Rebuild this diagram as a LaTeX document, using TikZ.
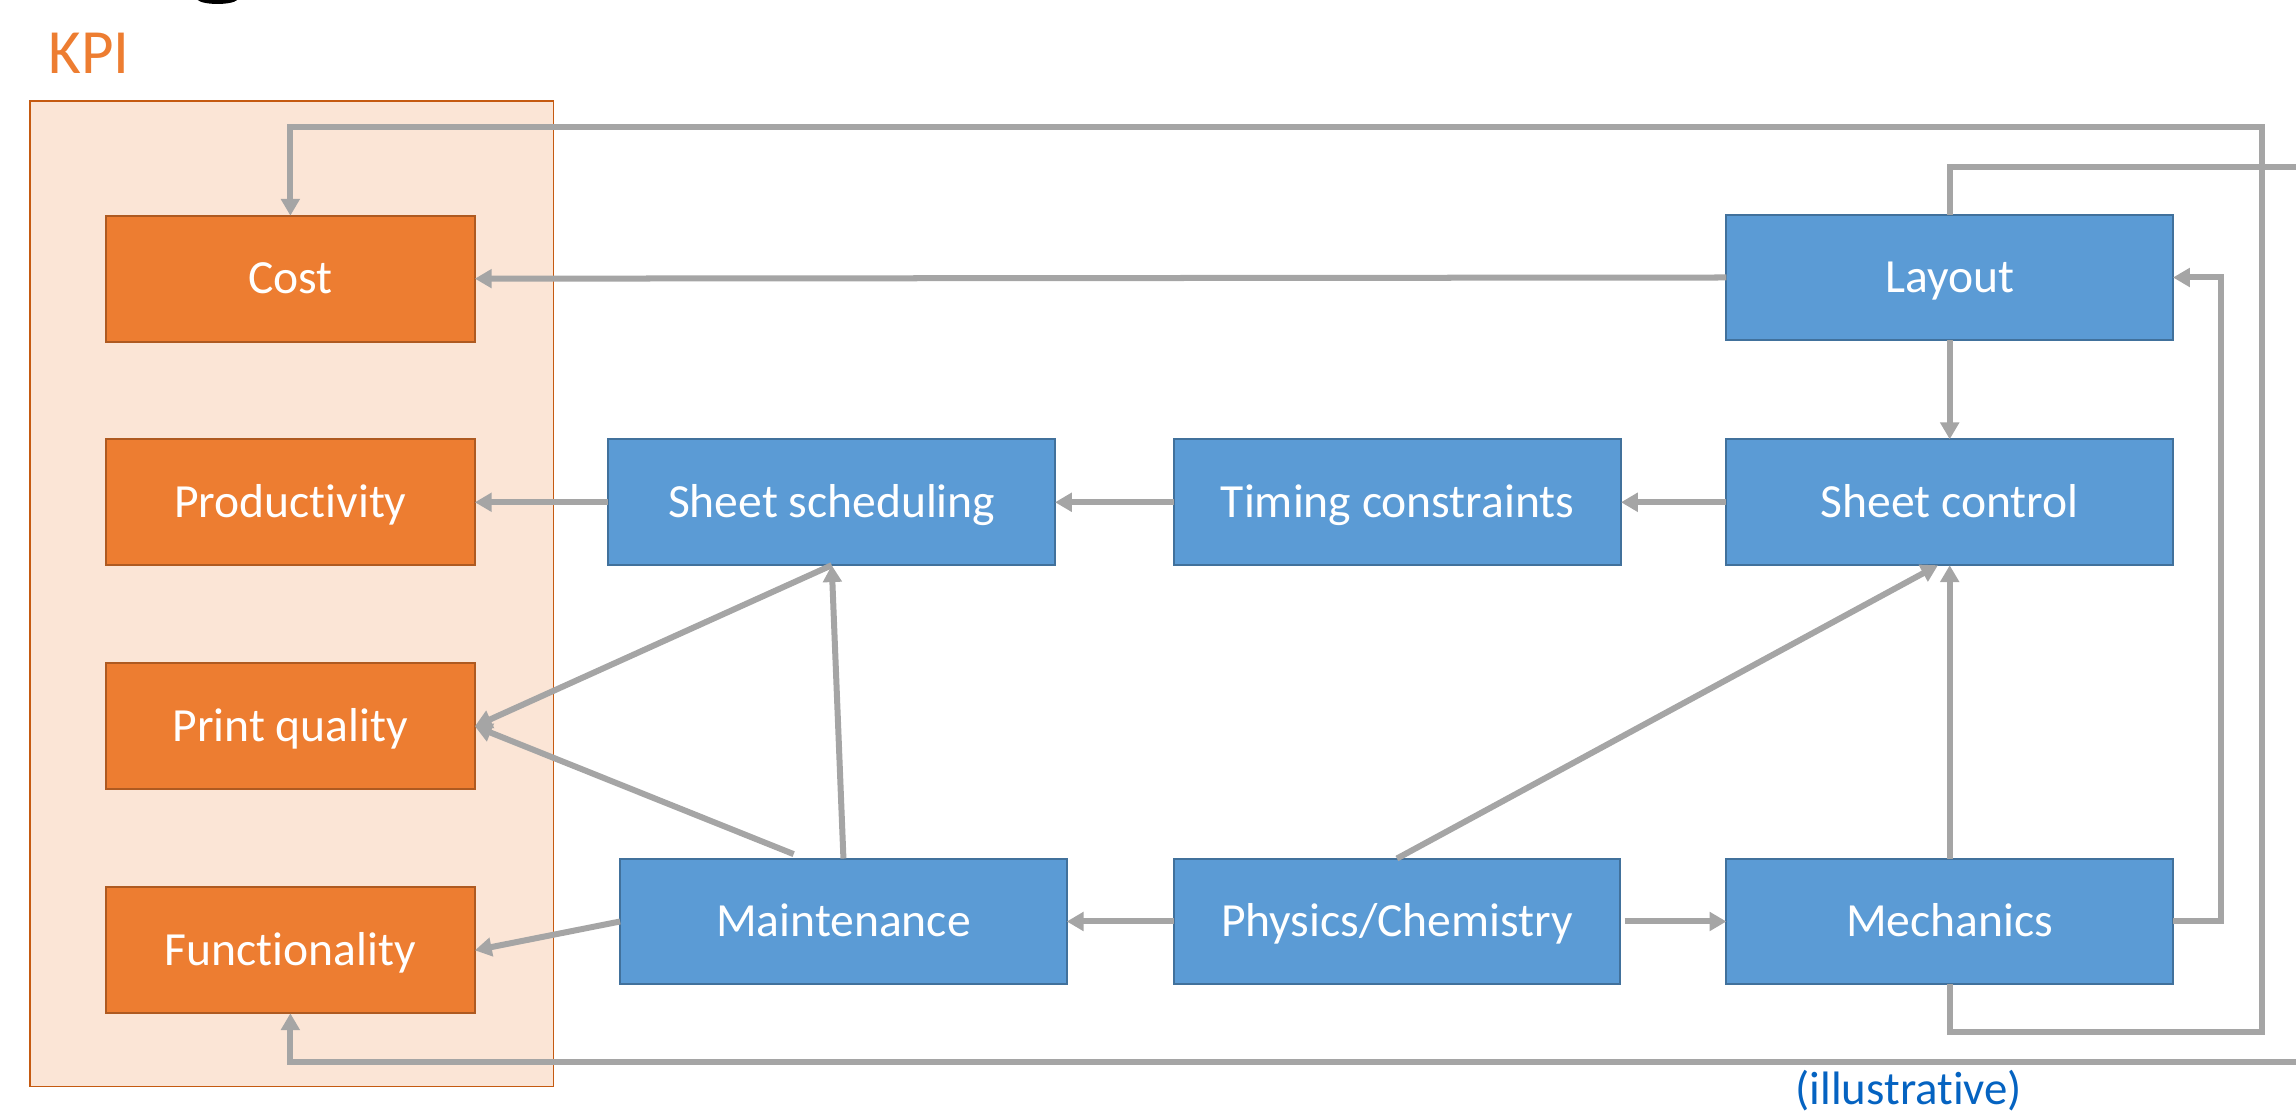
\documentclass[tikz,border=0pt]{standalone}
\usepackage{fontspec}
\setmainfont{Carlito}[Ligatures=NoCommon]
\usetikzlibrary{arrows.meta,calc}
\definecolor{kpibg}{HTML}{FBE5D6}
\definecolor{kpiline}{HTML}{C55A11}
\definecolor{kpiorange}{HTML}{ED7D31}
\definecolor{kpiedge}{HTML}{AE5A21}
\definecolor{procblue}{HTML}{5B9BD5}
\definecolor{procedge}{HTML}{41719C}
\definecolor{linkgray}{HTML}{A5A5A5}
\definecolor{noteblue}{RGB}{5,99,193}

\begin{document}
\begin{tikzpicture}[x=1pt,y=-1pt,
  box/.style={rectangle, inner sep=0pt, outer sep=0pt, minimum height=86pt,
    text=white, font=\fontsize{32.5}{38}\selectfont, text height=20.5pt,
    text depth=0pt, line width=1.4pt},
  kpibox/.style={box, fill=kpiorange, draw=kpiedge, minimum width=252pt},
  procbox/.style={box, fill=procblue, draw=procedge, minimum width=305pt},
  link/.style={draw=linkgray, line width=4.1pt,
    -{Triangle[length=11.5pt,width=12.5pt]}}
]
\useasboundingbox (0,0) rectangle (1568,761);

% descender of the heading above
\fill[black] (135,0) .. controls (139,3.6) and (158,3.6) .. (162,0) -- cycle;

% KPI area
\node[draw=kpiline, fill=kpibg, line width=1pt, inner sep=0pt, outer sep=0pt,
  minimum width=357.5pt, minimum height=673pt] (kpiarea) at (199.25,405.5) {};
\node[anchor=base west, text=kpiorange, font=\fontsize{43}{50}\selectfont,
  inner sep=0pt] (kpilabel) at (33,50.5) {KPI};

% KPI boxes
\node[kpibox] (cost) at (198.3,190.3) {Cost};
\node[kpibox] (prod) at (198.3,343) {Productivity};
\node[kpibox] (pq)   at (198.3,496) {Print quality};
\node[kpibox] (func) at (198.3,649) {Functionality};

% process boxes
\node[procbox] (layout) at (1331.5,189.5) {Layout};
\node[procbox] (sched)  at (568,343)      {Sheet scheduling};
\node[procbox] (timing) at (954.5,343)    {Timing constraints};
\node[procbox] (sc)     at (1331.5,343)   {Sheet control};
\node[procbox] (mnt)    at (576,629.3)    {Maintenance};
\node[procbox] (phys)   at (954,629.3)    {Physics/Chemistry};
\node[procbox] (mech)   at (1331.5,629.3) {Mechanics};

\node[anchor=base west, text=noteblue, font=\fontsize{32}{38}\selectfont,
  inner sep=0pt] (note) at (1226,754) {(illustrative)};

% connectors
\coordinate (mntpq) at ($(mnt.north)+(-34,-3)$);
\coordinate (sctip) at ($(sc.south)+(-8,0)$);
\coordinate (mechright) at (1517,629.3);
\coordinate (outerSE) at (1545,705);
\coordinate (outerNE) at (1545,87);

\draw[link] (layout.west) -- (cost.east);
\draw[link] (layout.south) -- (sc.north);
\draw[link] (sc.west) -- (timing.east);
\draw[link] (timing.west) -- (sched.east);
\draw[link] (sched.west) -- (prod.east);
\draw[link] (sched.south) -- (pq.east);
\draw[link] (mntpq) -- (pq.east);
\draw[link] (mnt.north) -- (sched.south);
\draw[link] (mnt.west) -- (func.east);
\draw[link] (phys.west) -- (mnt.east);
\draw[link, shorten <=3pt] (phys.east) -- (mech.west);
\draw[link] (phys.north) -- (sctip);
\draw[link] (mech.north) -- (sc.south);
\draw[link] (mech.east) -- (mechright) |- (layout.east);
\draw[link] (mech.south) |- (outerSE) -- (outerNE) -| (cost.north);

\begin{scope}
  \clip (0,0) rectangle (1568,761);
  \coordinate (offNE) at (1600,113.8);
  \coordinate (offSE) at (1600,725);
  \draw[link] (layout.north) |- (offNE) -- (offSE) -| (func.south);
\end{scope}
\end{tikzpicture}
\end{document}
